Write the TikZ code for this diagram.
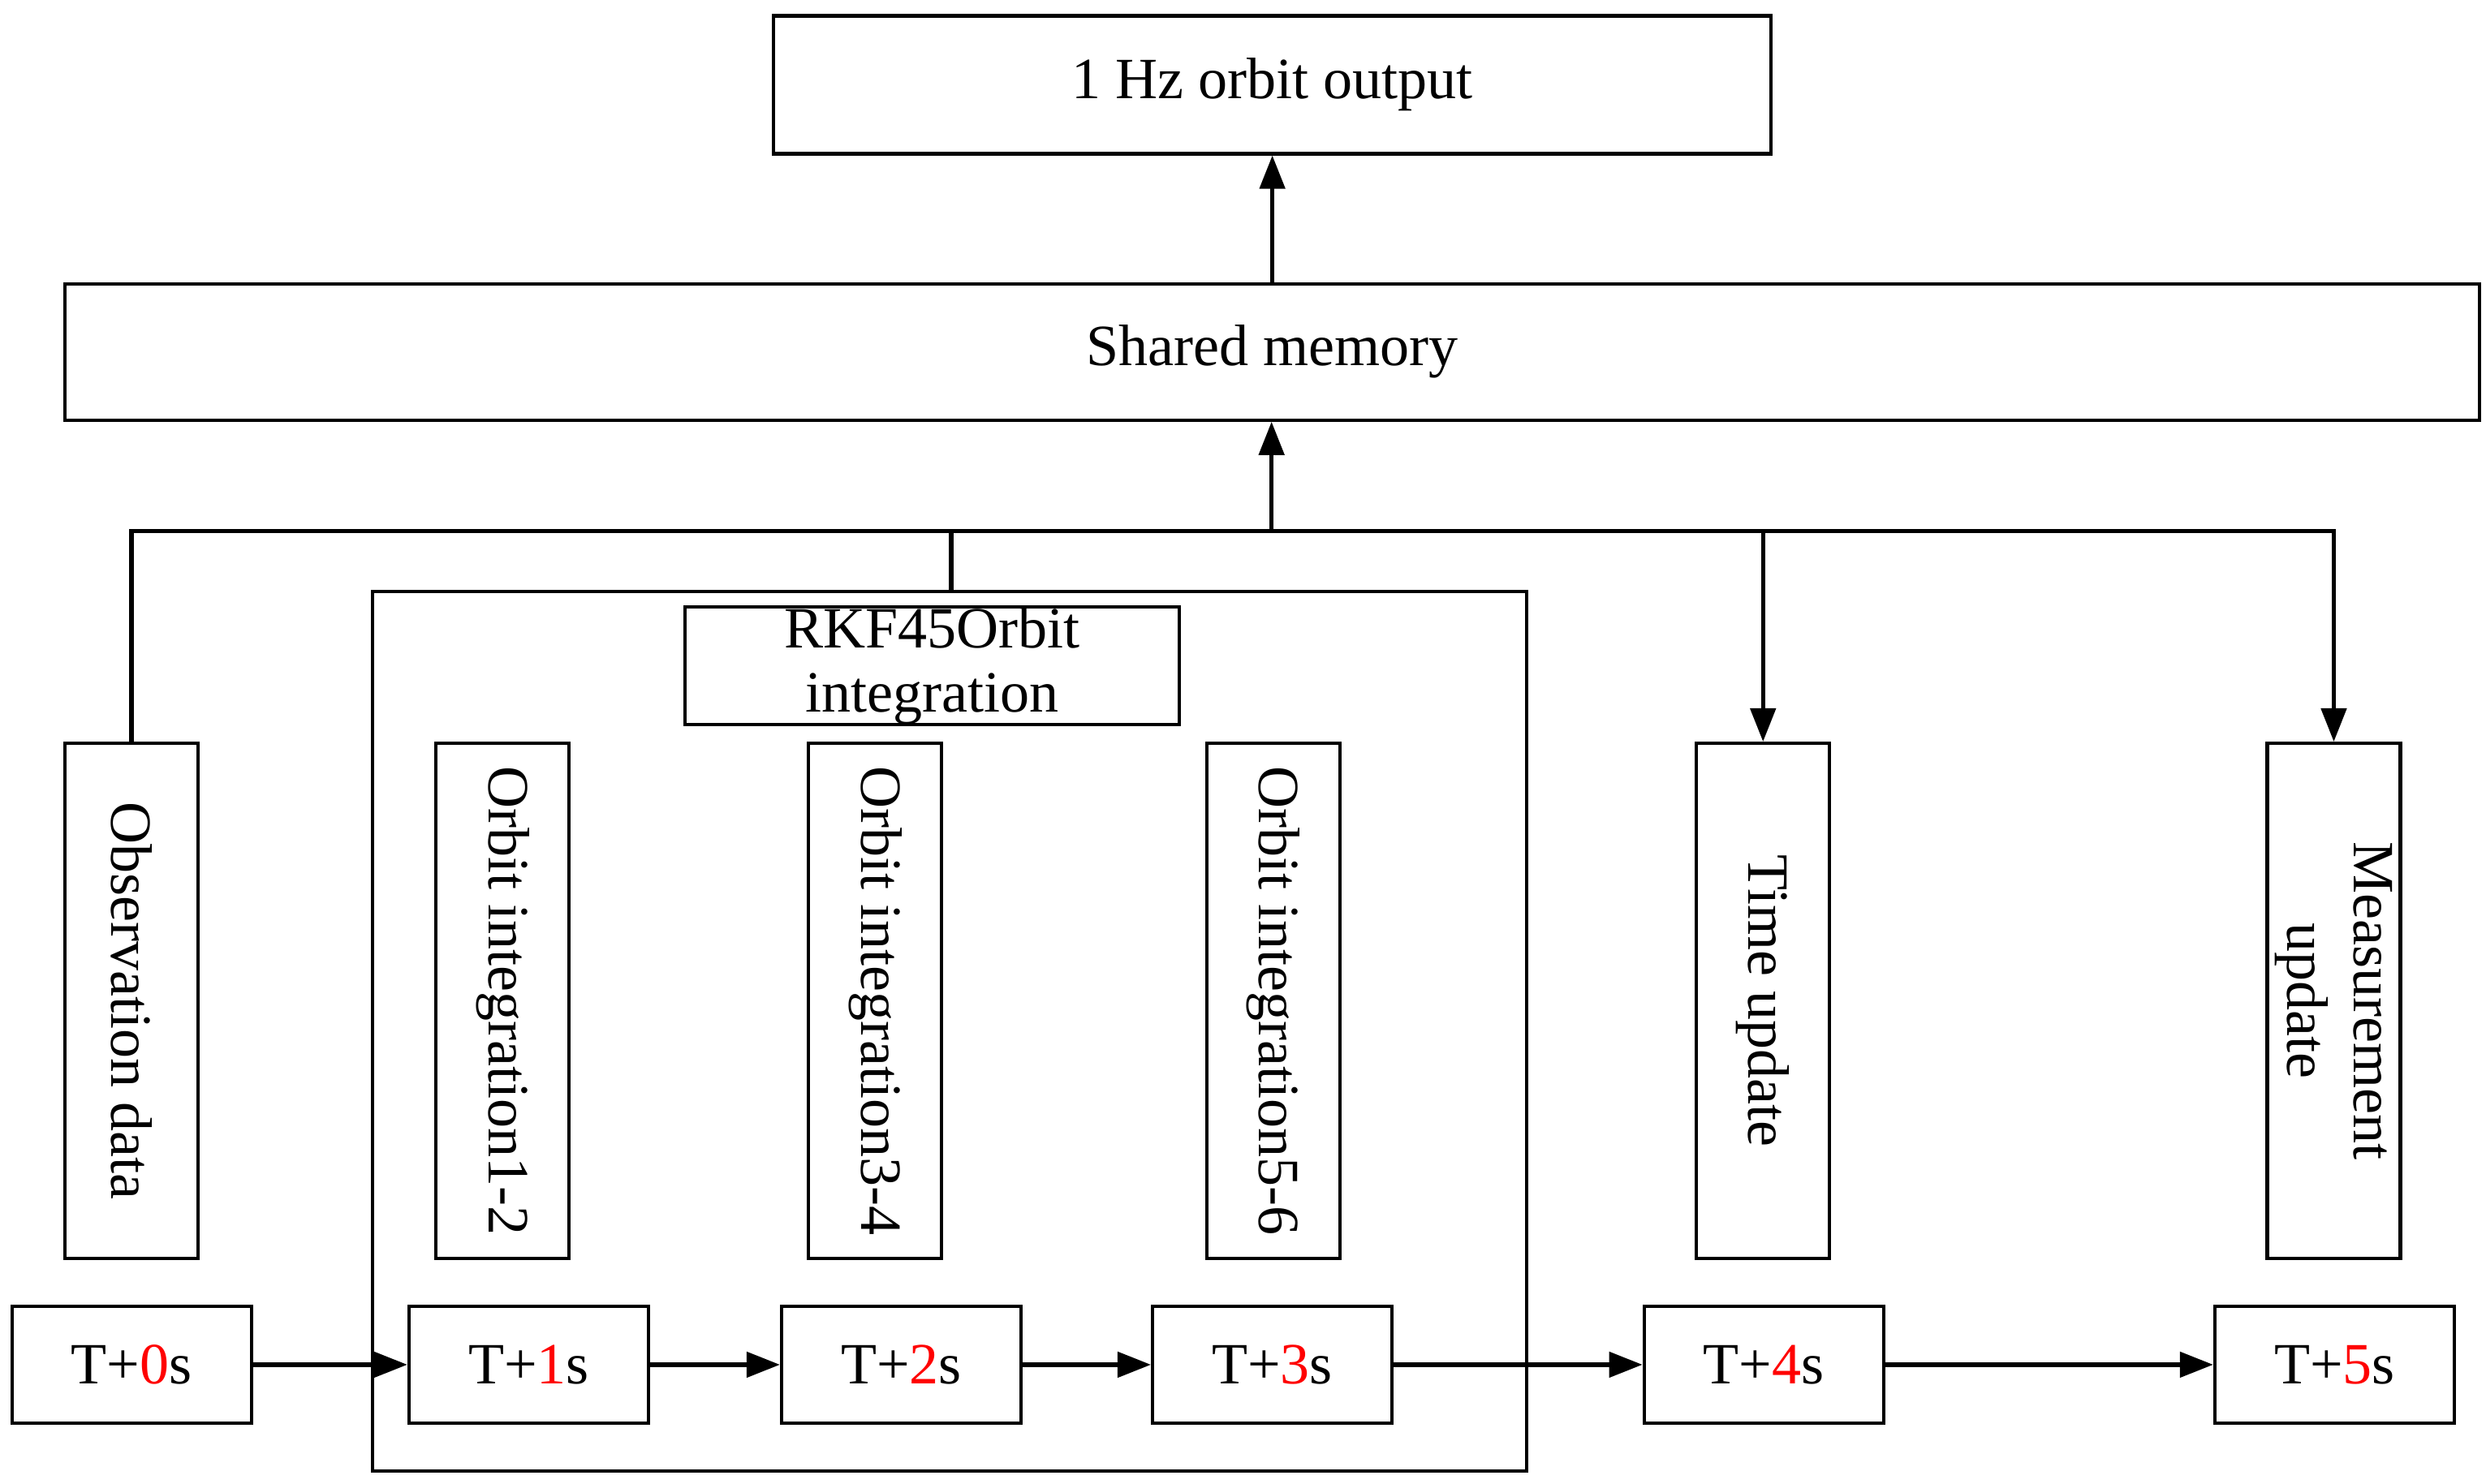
\documentclass[tikz,border=0pt]{standalone}
\usepackage{fontspec}
\setmainfont{Liberation Serif}
\usetikzlibrary{arrows.meta}
\begin{document}
\begin{tikzpicture}[x=0.02cm,y=-0.02cm,
  bx/.style={draw,line width=1.2pt,inner sep=0pt,font=\fontsize{21}{24}\selectfont},
  vt/.style={rotate=-90,font=\fontsize{21}{24}\selectfont,align=center},
  ar/.style={line width=1.6pt,-{Triangle[length=12pt,width=9pt]}},
  ln/.style={line width=1.6pt}]
\useasboundingbox (0,0) rectangle (1568,936);
% top
\node[bx,minimum width=629*0.02cm,minimum height=87*0.02cm] (out) at (802.5,53.5) {1 Hz orbit output};
\node[bx,minimum width=1523*0.02cm,minimum height=86*0.02cm] (sm) at (802.5,222) {Shared memory};
\coordinate (b0) at (802,335);
\draw[ar] (sm.north -| out.south) -- (out.south);
\draw[ar] (b0) -- (sm.south -| b0);
% big box
\node[draw,line width=1.2pt,minimum width=728*0.02cm,minimum height=555*0.02cm,inner sep=0pt] (big) at (599,650.5) {};
\node[bx,minimum width=312*0.02cm,minimum height=74*0.02cm,align=center,font=\fontsize{21}{23}\selectfont] (rkf) at (588,420) {RKF45Orbit\\integration};
% vertical boxes
\node[bx,minimum width=84*0.02cm,minimum height=325*0.02cm] (obs) at (83,631.5) {};
\node[vt] at (obs) {Observation data};
\node[bx,minimum width=84*0.02cm,minimum height=325*0.02cm] (o1) at (317,631.5) {};
\node[vt] at (o1) {Orbit integration1-2};
\node[bx,minimum width=84*0.02cm,minimum height=325*0.02cm] (o2) at (552,631.5) {};
\node[vt] at (o2) {Orbit integration3-4};
\node[bx,minimum width=84*0.02cm,minimum height=325*0.02cm] (o3) at (803,631.5) {};
\node[vt] at (o3) {Orbit integration5-6};
\node[bx,minimum width=84*0.02cm,minimum height=325*0.02cm] (tu) at (1112,631.5) {};
\node[vt] at (tu) {Time update};
\node[bx,minimum width=84*0.02cm,minimum height=325*0.02cm] (mu) at (1472,631.5) {};
\node[vt] at (mu) {Measurement\\update};
% bus
\coordinate (bl) at (83,335);
\coordinate (br) at (1472,335);
\draw[ln] (obs.north) -- (bl) -- (br) -- ++(0,1);
\draw[ln] (big.north -| 600,0) -- (600,335);
\draw[ar] (1112,335) -- (tu.north);
\draw[ar] (br) -- (mu.north);
% T boxes
\tikzset{tb/.style={bx,minimum width=151*0.02cm,minimum height=74*0.02cm}}
\node[tb] (t0) at (83,861) {T+\textcolor{red}{0}s};
\node[tb] (t1) at (333.5,861) {T+\textcolor{red}{1}s};
\node[tb] (t2) at (568.5,861) {T+\textcolor{red}{2}s};
\node[tb] (t3) at (802.5,861) {T+\textcolor{red}{3}s};
\node[tb] (t4) at (1112.5,861) {T+\textcolor{red}{4}s};
\node[tb] (t5) at (1472.5,861) {T+\textcolor{red}{5}s};
\foreach \a/\b in {t0/t1,t1/t2,t2/t3,t3/t4,t4/t5} \draw[ar] (\a) -- (\b);
\end{tikzpicture}
\end{document}
